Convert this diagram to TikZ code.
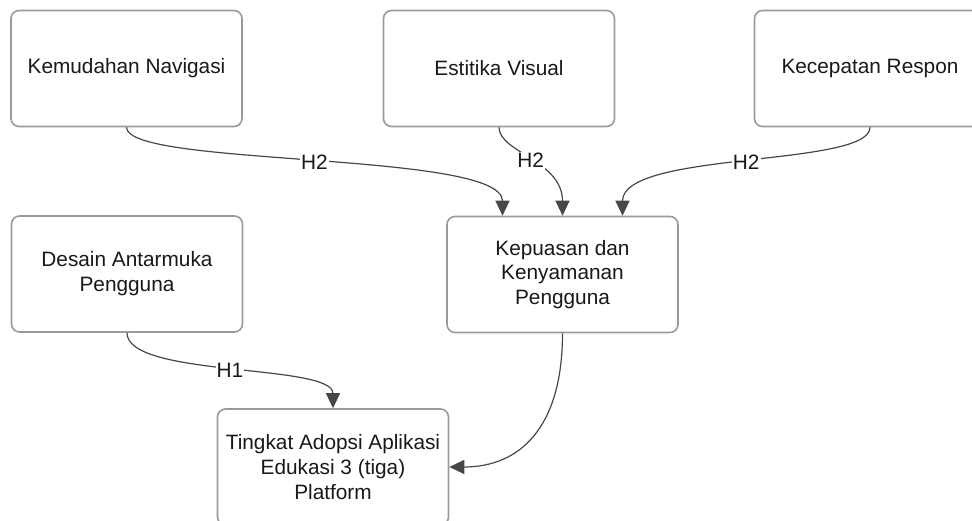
\documentclass[tikz,border=0pt]{standalone}
\usepackage{fontspec}
\setmainfont{Liberation Sans}
\usepackage{tikz}
\usetikzlibrary{arrows.meta,positioning}
\definecolor{garis}{HTML}{9A9A9A}
\definecolor{panahabu}{HTML}{474747}
\tikzstyle{kotak} = [rectangle, rounded corners=8pt, minimum width=231pt, minimum height=116pt, align=center, draw=garis, line width=1.6pt, fill=white, text=black!90, font=\fontsize{20.8}{24.8}\selectfont]
\tikzstyle{panah} = [draw=panahabu, line width=1.2pt, -{Triangle[length=15pt,width=14pt]}]
\tikzstyle{hipo} = [fill=white, inner sep=1pt, text=black!90, font=\fontsize{20.8}{24.8}\selectfont]

\begin{document}
\begin{tikzpicture}[x=1pt, y=-1pt]
    \useasboundingbox (0,0) rectangle (972,521);
    \node[kotak] (navigasi) at (126.5,68.5) {Kemudahan Navigasi};
    \node[kotak] (estetika) at (499,68.5) {Estitika Visual};
    \node[kotak] (respon) at (870,68.5) {Kecepatan Respon};
    \node[kotak] (desain) at (127,274) {Desain Antarmuka \\ Pengguna};
    \node[kotak] (kepuasan) at (562.5,274.5) {Kepuasan dan \\ Kenyamanan \\ Pengguna};
    \node[kotak] (adopsi) at (333,467) {Tingkat Adopsi Aplikasi \\ Edukasi 3 (tiga) \\ Platform};

    \draw[panah] (navigasi.south) .. controls +(0,40) and +(0,-65) .. ([xshift=-60pt]kepuasan.north) node[hipo, midway] {H2};
    \draw[panah] (estetika.south) .. controls +(0,25) and +(0,-55) .. (kepuasan.north) node[hipo, midway] {H2};
    \draw[panah] (respon.south) .. controls +(0,40) and +(0,-65) .. ([xshift=60pt]kepuasan.north) node[hipo, midway] {H2};
    \draw[panah] (desain.south) .. controls +(0,45) and +(0,-45) .. (adopsi.north) node[hipo, midway] {H1};
    \draw[panah] (kepuasan.south) .. controls +(0,95) and +(70,0) .. (adopsi.east);
\end{tikzpicture}
\end{document}
